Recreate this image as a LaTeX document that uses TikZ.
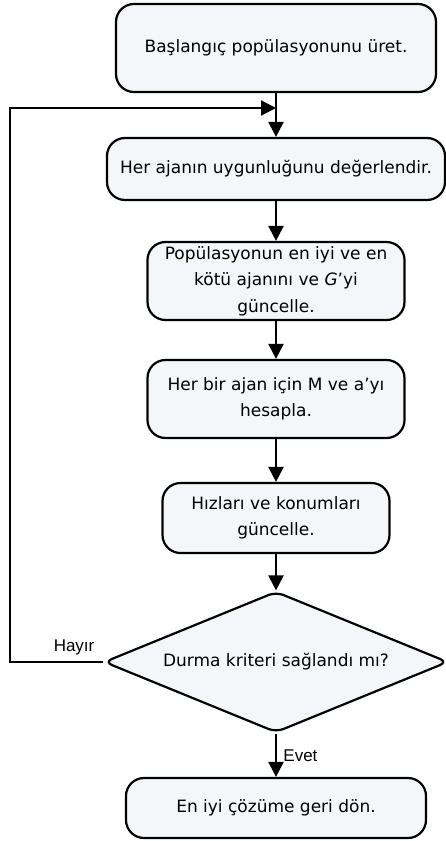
\documentclass[tikz,border=0pt]{standalone}
\usepackage{fontspec}
\setmainfont{DejaVu Sans}
\newfontfamily\lblfont{Liberation Sans}
\usetikzlibrary{arrows.meta, shapes.geometric, positioning}
\definecolor{boxfill}{RGB}{245,246,250}

\tikzset{
	stepbox/.style={draw, rounded corners=18pt, fill=boxfill, line width=2.2pt,
		align=center, inner sep=4pt, font=\fontsize{17}{26.5}\selectfont},
	decision/.style={draw, diamond, shape aspect=2.44, rounded corners=8pt, fill=boxfill,
		line width=2.2pt, inner sep=0pt, font=\fontsize{17}{26.5}\selectfont},
	arr/.style={line width=2.2pt, -{Triangle[length=15pt,width=15pt]}},
	lbl/.style={font=\lblfont\fontsize{17}{19}\selectfont}
}

\begin{document}
\begin{tikzpicture}[x=1pt,y=1pt]
	\useasboundingbox (0,0) rectangle (446,-841);

	\def\cx{276}
	\node[stepbox, minimum width=320pt, minimum height=88pt] (init) at (\cx,-48) {Başlangıç popülasyonunu üret.};
	\node[stepbox, minimum width=338pt, minimum height=62pt] (eval) at (\cx,-169) {Her ajanın uygunluğunu değerlendir.};
	\node[stepbox, minimum width=257pt, minimum height=78pt] (upd) at (\cx,-281) {Popülasyonun en iyi ve en\\kötü ajanını ve \textit{G}’yi\\güncelle.};
	\node[stepbox, minimum width=257pt, minimum height=78pt] (calc) at (\cx,-399) {Her bir ajan için M ve a’yı\\hesapla.};
	\node[stepbox, minimum width=227pt, minimum height=70pt] (vel) at (\cx,-518) {Hızları ve konumları\\güncelle.};
	\node[decision, minimum width=344pt, minimum height=141pt] (stop) at (\cx,-662) {Durma kriteri sağlandı mı?};
	\node[stepbox, minimum width=300pt, minimum height=60pt] (final) at (\cx,-808) {En iyi çözüme geri dön.};

	% feedback loop
	\coordinate (fb) at (\cx,-108);
	\coordinate (lft) at (10,-662);

	\draw[arr] (init) -- (eval);
	\draw[arr] (eval) -- (upd);
	\draw[arr] (upd) -- (calc);
	\draw[arr] (calc) -- (vel);
	\draw[arr] (vel) -- (stop);
	\draw[arr] (stop) -- node[lbl, right=3pt] {Evet} (final);
	\draw[arr] (stop.west) -- (lft) |- (fb);
	\node[lbl, above left=3pt and 5pt of stop.west] {Hayır};
\end{tikzpicture}
\end{document}
